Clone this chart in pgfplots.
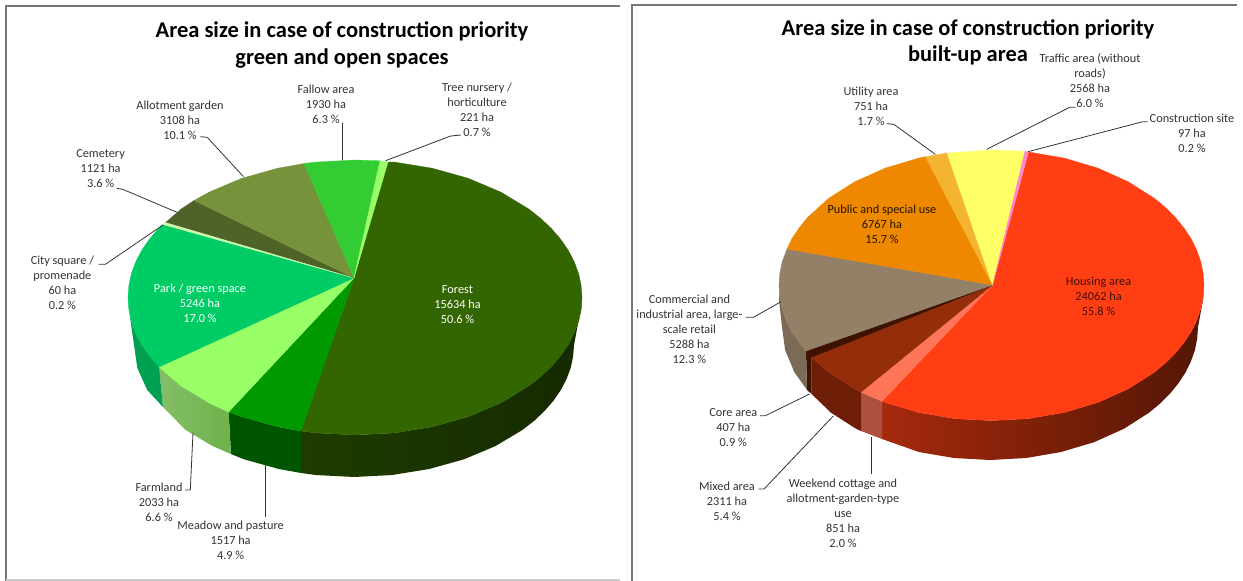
\documentclass[border=0pt]{standalone}
\usepackage{pgfplots}
\pgfplotsset{compat=1.18}
\usepackage{fontspec}
\setmainfont{Carlito}
\definecolor{forest}{HTML}{336600}
\definecolor{forestW}{HTML}{152A00}
\definecolor{meadow}{HTML}{009900}
\definecolor{meadowW}{HTML}{005500}
\definecolor{farm}{HTML}{99FF66}
\definecolor{farmW}{HTML}{6FB24C}
\definecolor{park}{HTML}{00CC66}
\definecolor{parkW}{HTML}{00A050}
\definecolor{city}{HTML}{CCFFAA}
\definecolor{cem}{HTML}{4F6228}
\definecolor{allot}{HTML}{76933C}
\definecolor{fallow}{HTML}{33CC33}
\definecolor{housing}{HTML}{FF3F13}
\definecolor{weekend}{HTML}{FF7558}
\definecolor{weekendW}{HTML}{AD5040}
\definecolor{mixed}{HTML}{942D0A}
\definecolor{mixedW}{HTML}{6E1E06}
\definecolor{core}{HTML}{3D1300}
\definecolor{comm}{HTML}{948066}
\definecolor{commW}{HTML}{7A6A56}
\definecolor{public}{HTML}{EE8800}
\definecolor{util}{HTML}{F4B330}
\definecolor{traffic}{HTML}{FFFF66}
\definecolor{constr}{HTML}{FF88CC}
\definecolor{leader}{HTML}{333333}
\definecolor{frameg}{HTML}{777777}
\definecolor{labelc}{HTML}{333333}
\begin{document}
\begin{tikzpicture}
\begin{axis}[
  width=1243pt, height=581pt, scale only axis,
  xmin=0, xmax=1243, ymin=0, ymax=581, y dir=reverse,
  hide axis, clip=true,
]
% full-page extent
\addplot[draw=white, line width=.1pt] coordinates {(0,0)(1243,0)(1243,581)(0,581)} -- cycle;
% frames
\addplot[frameg, line width=1.6pt] coordinates {(620,6)(6,6)(6,581)};
\addplot[black!20, line width=1.6pt] coordinates {(6,580)(620,580)};
\addplot[frameg, line width=1.6pt] coordinates {(1237,5)(632,5)(632,581)};

% LEFT PIE walls
\addplot[draw=none, left color=forestW!70!forest, middle color=forestW, right color=forestW] coordinates {(582,297.5)(581.1,309.5)(578.6,321.4)(574.3,333.1)(568.4,344.5)(560.7,355.7)(551.6,366.25)(540.9,376.4)(528.9,385.9)(501,402.8)(468.5,416.6)(432.6,426.7)(394.5,432.9)(355,435)(315.5,432.9)(301,431)(301,473)(315.8,475)(354,477)(392.2,475)(429.2,469)(464,459.3)(495.4,446.1)(522.5,429.9)(534.2,420.8)(544.5,411)(553.4,400.8)(560.8,390.1)(566.5,379.2)(570.7,367.9)(573.1,356.5)(574,345)(580,313)} -- cycle;
\addplot[draw=none, fill=meadowW] coordinates {(301,431)(277.4,426.7)(241.5,416.6)(228.6,412)(231,454)(244,459.3)(278.8,469)(301,473)} -- cycle;
\addplot[draw=none, left color=farmW!85!white, right color=farmW] coordinates {(228.6,412)(209,402.8)(181.1,385.9)(159,367)(163,407)(185.5,429.9)(212.6,446.1)(231,454)} -- cycle;
\addplot[draw=none, fill=parkW] coordinates {(159,367)(141.6,344.5)(135.7,333.1)(131.4,321.4)(128.9,309.5)(128,297.5)(129,310)(134,345)(137.3,367.9)(147.2,390)(163,407)} -- cycle;

% LEFT PIE top
\addplot[draw=forest, line width=.3pt, fill=forest] coordinates {(354,278)(388,162)(394.5,162.1)(432.6,168.3)(468.5,178.4)(501,192.2)(528.9,209.1)(540.9,218.6)(551.6,228.75)(560.7,239.3)(568.4,250.5)(574.3,261.9)(578.6,273.6)(581.1,285.5)(582,297.5)(581.1,309.5)(578.6,321.4)(574.3,333.1)(568.4,344.5)(560.7,355.7)(551.6,366.25)(540.9,376.4)(528.9,385.9)(501,402.8)(468.5,416.6)(432.6,426.7)(394.5,432.9)(355,435)(315.5,432.9)(301,431)} -- cycle;
\addplot[draw=meadow, line width=.3pt, fill=meadow] coordinates {(354,278)(301,431)(277.4,426.7)(241.5,416.6)(228.6,412)} -- cycle;
\addplot[draw=farm, line width=.3pt, fill=farm] coordinates {(354,278)(228.6,412)(209,402.8)(181.1,385.9)(159,367)} -- cycle;
\addplot[draw=park, line width=.3pt, fill=park] coordinates {(354,278)(159,367)(149.3,355.7)(141.6,344.5)(135.7,333.1)(131.4,321.4)(128.9,309.5)(128,297.5)(128.9,285.5)(131.4,273.6)(135.7,261.9)(141.6,250.5)(149.3,239.3)(158.4,228.75)(163,224.5)} -- cycle;
\addplot[draw=cem, line width=.3pt, fill=cem] coordinates {(354,278)(165.5,222.6)(181.1,209.1)(194,200.5)} -- cycle;
\addplot[draw=city, line width=.3pt, fill=city] coordinates {(354,278)(163,224.5)(165.5,222.6)} -- cycle;
\addplot[draw=allot, line width=.3pt, fill=allot] coordinates {(354,278)(194,200.5)(209,192.2)(241.5,178.4)(277.4,168.3)(304,163.5)} -- cycle;
\addplot[draw=fallow, line width=.3pt, fill=fallow] coordinates {(354,278)(304,163.5)(315.5,162.1)(355,160)(380,160.8)} -- cycle;
\addplot[draw=farm, line width=.3pt, fill=farm] coordinates {(354,278)(380,160.8)(388,162)} -- cycle;

% LEFT leaders
\addplot[leader, line width=.8pt] coordinates {(385.5,160.7)(450.7,136)(460.8,135)};
\addplot[leader, line width=.8pt] coordinates {(342,160)(342,123)};
\addplot[leader, line width=.8pt] coordinates {(243.5,176.7)(207.2,137.3)(200.4,136.7)};
\addplot[leader, line width=.8pt] coordinates {(177,212.3)(122.7,189.3)(116.7,188.3)};
\addplot[leader, line width=.8pt] coordinates {(163,225)(105.4,264.3)(98.6,264.3)};
\addplot[leader, line width=.8pt] coordinates {(193,432.7)(190.3,490)(185,490)};
\addplot[leader, line width=.8pt] coordinates {(265.6,465)(265.6,516.7)};

% RIGHT PIE walls
\addplot[draw=none, left color=housing!65!black, middle color=mixedW!75!black, right color=mixedW!75!black] coordinates {(1204,285.3)(1203.2,297.1)(1200.8,308.8)(1196.8,320.3)(1191.3,331.6)(1184,342.5)(1175.5,353)(1165.5,363)(1154.3,372.3)(1128.1,388.9)(1097.8,402.5)(1064.2,412.5)(1028.5,418.6)(991.5,420.6)(954.5,418.6)(918.8,412.5)(882,401.3)(882,439)(918.9,452)(953.8,458)(990,460)(1026.2,458)(1061.1,452)(1094,442.2)(1123.7,428.9)(1149.3,412.5)(1160.4,403.3)(1170.1,393.5)(1178.4,383.3)(1185.5,372.5)(1190.9,361.4)(1194.9,350.1)(1197.2,338.6)(1198,327)(1203,300)} -- cycle;
\addplot[draw=none, fill=weekendW] coordinates {(882,401.3)(861,392.1)(861,431)(882,439)} -- cycle;
\addplot[draw=none, fill=mixedW] coordinates {(861,392.1)(854.9,388.9)(828.7,372.3)(811.6,357.3)(811.6,394)(830.7,412.5)(856.3,428.9)(861,431)} -- cycle;
\addplot[draw=none, fill=core] coordinates {(811.6,357.3)(806,351)(807,390)(811.6,394)} -- cycle;
\addplot[draw=none, fill=commW] coordinates {(806,351)(791.7,331.6)(786.2,320.3)(782.2,308.8)(779.8,297.1)(779,285.3)(779,300)(782,327)(785.1,350.1)(794.5,372.5)(807,390)} -- cycle;

% RIGHT PIE top
\addplot[draw=housing, line width=.3pt, fill=housing] coordinates {(992.5,285)(1028.5,152)(1064.2,158.1)(1097.8,168.1)(1128.1,181.7)(1154.3,198.3)(1165.5,207.6)(1175.5,217.6)(1184,228.1)(1191.3,239)(1196.8,250.3)(1200.8,261.8)(1203.2,273.5)(1204,285.3)(1203.2,297.1)(1200.8,308.8)(1196.8,320.3)(1191.3,331.6)(1184,342.5)(1175.5,353)(1165.5,363)(1154.3,372.3)(1128.1,388.9)(1097.8,402.5)(1064.2,412.5)(1028.5,418.6)(991.5,420.6)(954.5,418.6)(918.8,412.5)(882,401.3)} -- cycle;
\addplot[draw=weekend, line width=.3pt, fill=weekend] coordinates {(992.5,285)(882,401.3)(861,392.1)} -- cycle;
\addplot[draw=mixed, line width=.3pt, fill=mixed] coordinates {(992.5,285)(861,392.1)(854.9,388.9)(828.7,372.3)(811.6,357.3)} -- cycle;
\addplot[draw=core, line width=.3pt, fill=core] coordinates {(992.5,285)(811.6,357.3)(806,351)} -- cycle;
\addplot[draw=comm, line width=.3pt, fill=comm] coordinates {(992.5,285)(806,351)(799,342.5)(791.7,331.6)(786.2,320.3)(782.2,308.8)(779.8,297.1)(779,285.3)(779.8,273.5)(782.2,261.8)(787,249)} -- cycle;
\addplot[draw=public, line width=.3pt, fill=public] coordinates {(992.5,285)(787,249)(791.7,239)(799,228.1)(807.5,217.6)(828.7,198.3)(854.9,181.7)(885.2,168.1)(918.8,158.1)(925.4,156.7)} -- cycle;
\addplot[draw=util, line width=.3pt, fill=util] coordinates {(992.5,285)(925.4,156.7)(947,153)} -- cycle;
\addplot[draw=traffic, line width=.3pt, fill=traffic] coordinates {(992.5,285)(947,153)(991.5,150)(1025,151.3)} -- cycle;
\addplot[draw=constr, line width=.3pt, fill=constr] coordinates {(992.5,285)(1025,151.3)(1028.5,152)} -- cycle;

% RIGHT leaders
\addplot[leader, line width=.8pt] coordinates {(1028,151.7)(1142.8,121.7)(1147.5,121.7)};
\addplot[leader, line width=.8pt] coordinates {(986.7,149.3)(1069.7,107.3)(1075.6,107.3)};
\addplot[leader, line width=.8pt] coordinates {(935.3,154.3)(893.8,124.3)(886.7,123.7)};
\addplot[leader, line width=.8pt] coordinates {(781,301.7)(753.5,317.3)(745.6,317.3)};
\addplot[leader, line width=.8pt] coordinates {(809.6,394)(765.3,415.7)(760.2,415.7)};
\addplot[leader, line width=.8pt] coordinates {(833.3,416)(764.1,489)(758.6,489)};
\addplot[leader, line width=.8pt] coordinates {(871.2,436.7)(871.2,474.3)};

% TEXT
\tikzset{t/.style={align=center, inner sep=0pt, text=labelc, font=\fontsize{12.3}{15}\selectfont},
         h/.style={align=center, inner sep=0pt, text=black, font=\fontsize{22.5}{26.5}\selectfont\bfseries}}
\node[h] at (axis cs:342,45) {Area size in case of construction priority\\green and open spaces};
\node[t] at (axis cs:477,109.5) {Tree nursery /\\horticulture\\221 ha\\0.7 \%};
\node[t] at (axis cs:326,104) {Fallow area\\1930 ha\\6.3 \%};
\node[t] at (axis cs:180,120) {Allotment garden\\3108 ha\\10.1 \%};
\node[t] at (axis cs:100.6,169) {Cemetery\\1121 ha\\3.6 \%};
\node[t] at (axis cs:62.4,282.5) {City square /\\promenade\\60 ha\\0.2 \%};
\node[t, text=white] at (axis cs:200,303) {Park / green space\\5246 ha\\17.0 \%};
\node[t, text=white] at (axis cs:457.5,304.5) {Forest\\15634 ha\\50.6 \%};
\node[t] at (axis cs:159,502) {Farmland\\2033 ha\\6.6 \%};
\node[t] at (axis cs:230.6,540) {Meadow and pasture\\1517 ha\\4.9 \%};

\node[h] at (axis cs:968,42.5) {Area size in case of construction priority\\built-up area};
\node[t] at (axis cs:1090,81) {Traffic area (without\\roads)\\2568 ha\\6.0 \%};
\node[t] at (axis cs:1192,133) {Construction site\\97 ha\\0.2 \%};
\node[t] at (axis cs:871,106) {Utility area\\751 ha\\1.7 \%};
\node[t, text=black!85!public] at (axis cs:882,223.8) {Public and special use\\6767 ha\\15.7 \%};
\node[t, text=black!75!housing] at (axis cs:1098.5,296) {Housing area\\24062 ha\\55.8 \%};
\node[t] at (axis cs:689.4,329) {Commercial and\\industrial area, large-\\scale retail\\5288 ha\\12.3 \%};
\node[t] at (axis cs:733.3,428) {Core area\\407 ha\\0.9 \%};
\node[t] at (axis cs:727,500.8) {Mixed area\\2311 ha\\5.4 \%};
\node[t] at (axis cs:843,512.8) {Weekend cottage and\\allotment-garden-type\\use\\851 ha\\2.0 \%};
\end{axis}
\end{tikzpicture}
\end{document}
